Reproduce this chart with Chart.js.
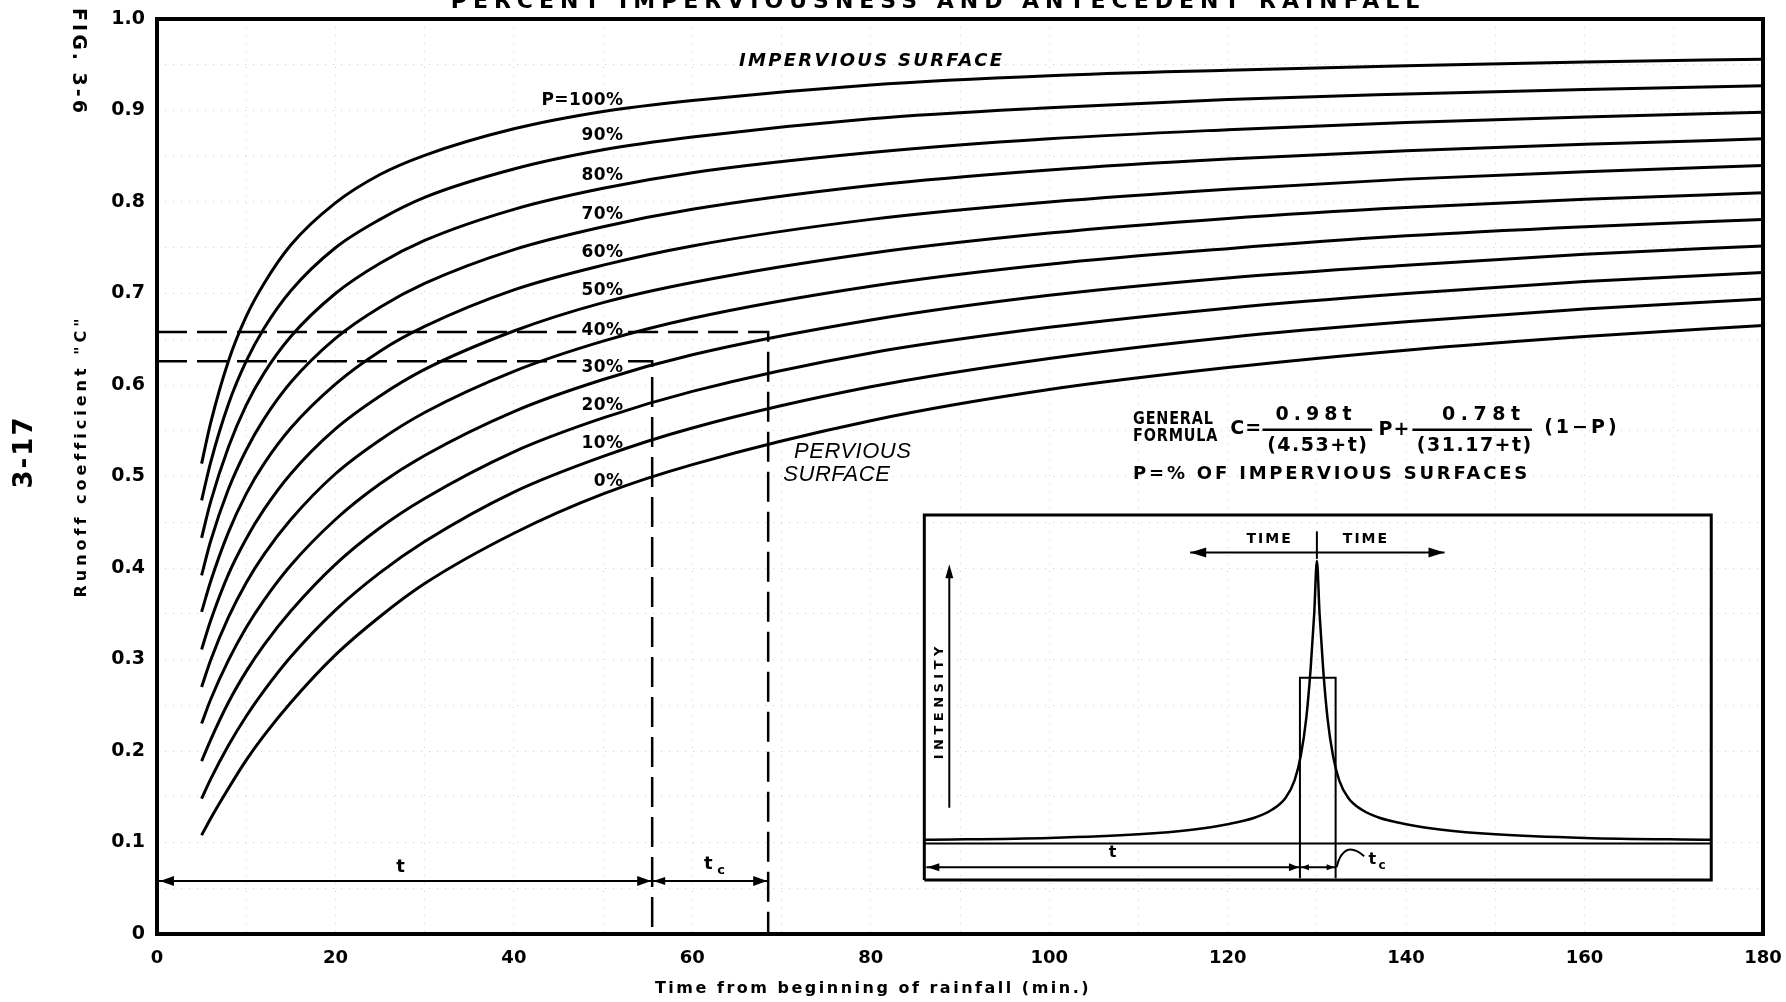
<!DOCTYPE html>
<html>
<head>
<meta charset="utf-8">
<script src="https://cdn.jsdelivr.net/npm/chart.js@4.4.0/dist/chart.umd.min.js"></script>
<style>
html, body { margin: 0; padding: 0; background: #fff; overflow: hidden; }
#wrap { width: 1786px; height: 1002px; position: relative; }
</style>
</head>
<body>
<div id="wrap"><canvas id="grafico"></canvas></div>
<script>
// time from beginning of rainfall (min.)
const times = [5, 6, 8, 10, 12, 15, 20, 25, 30, 40, 50, 60, 80, 100, 120, 140, 160, 180];

// runoff coefficient C (P = % impervious)
const curve0   = [0.108, 0.126, 0.159, 0.190, 0.217, 0.253, 0.305, 0.347, 0.383, 0.438, 0.481, 0.513, 0.561, 0.595, 0.619, 0.638, 0.653, 0.665];
const curve10  = [0.148, 0.169, 0.206, 0.238, 0.266, 0.303, 0.354, 0.395, 0.429, 0.483, 0.522, 0.553, 0.598, 0.629, 0.652, 0.669, 0.683, 0.694];
const curve20  = [0.189, 0.212, 0.253, 0.287, 0.316, 0.353, 0.404, 0.444, 0.476, 0.527, 0.564, 0.593, 0.635, 0.663, 0.684, 0.700, 0.713, 0.723];
const curve30  = [0.230, 0.256, 0.299, 0.335, 0.365, 0.403, 0.453, 0.492, 0.523, 0.571, 0.606, 0.633, 0.671, 0.698, 0.717, 0.731, 0.743, 0.752];
const curve40  = [0.270, 0.299, 0.346, 0.384, 0.415, 0.453, 0.503, 0.540, 0.570, 0.615, 0.648, 0.673, 0.708, 0.732, 0.749, 0.763, 0.773, 0.781];
const curve50  = [0.311, 0.342, 0.393, 0.432, 0.464, 0.503, 0.552, 0.588, 0.617, 0.659, 0.690, 0.712, 0.744, 0.766, 0.782, 0.794, 0.803, 0.810];
const curve60  = [0.352, 0.385, 0.439, 0.481, 0.514, 0.553, 0.601, 0.637, 0.664, 0.704, 0.731, 0.752, 0.781, 0.800, 0.814, 0.825, 0.833, 0.840];
const curve70  = [0.392, 0.429, 0.486, 0.529, 0.563, 0.603, 0.651, 0.685, 0.711, 0.748, 0.773, 0.792, 0.818, 0.835, 0.847, 0.856, 0.863, 0.869];
const curve80  = [0.433, 0.472, 0.532, 0.578, 0.613, 0.653, 0.700, 0.733, 0.758, 0.792, 0.815, 0.832, 0.854, 0.869, 0.879, 0.887, 0.893, 0.898];
const curve90  = [0.474, 0.515, 0.579, 0.626, 0.662, 0.703, 0.750, 0.781, 0.805, 0.836, 0.857, 0.871, 0.891, 0.903, 0.912, 0.918, 0.923, 0.927];
const curve100 = [0.514, 0.558, 0.626, 0.675, 0.711, 0.753, 0.799, 0.830, 0.851, 0.880, 0.899, 0.911, 0.928, 0.938, 0.944, 0.949, 0.953, 0.956];

const curves = [curve0, curve10, curve20, curve30, curve40, curve50, curve60, curve70, curve80, curve90, curve100];
const curveNames = ['0%', '10%', '20%', '30%', '40%', '50%', '60%', '70%', '80%', '90%', 'P=100%'];

// example read-off (dashed guides)
const readT = [55.5, 68.5];
const readC = [0.626, 0.658];

// inset hyetograph
const insetT = [86.0, 100, 110, 116, 120, 123, 125, 126.5, 127.5, 128.2, 128.8, 129.3, 129.7, 130.0,
                130.3, 130.7, 131.2, 131.8, 132.5, 133.5, 135, 137, 140, 144, 150, 160, 174.2];
const insetI = [0.103, 0.105, 0.109, 0.114, 0.120, 0.127, 0.136, 0.149, 0.168, 0.195, 0.235, 0.290, 0.350, 0.408,
                0.350, 0.290, 0.235, 0.195, 0.168, 0.149, 0.136, 0.127, 0.120, 0.114, 0.109, 0.105, 0.103];
const boxT = [86, 86, 174.2, 174.2, 86];
const boxC = [0.059, 0.458, 0.458, 0.059, 0.059];
const barT = [128.1, 128.1, 132.1, 132.1];
const barC = [0.061, 0.28, 0.28, 0.061];
const baseT = [86, 174.2];
const baseC = [0.099, 0.099];

// where the curve labels sit
const labelRightT = 52.3;
const labelC = [0.494, 0.536, 0.578, 0.619, 0.659, 0.703, 0.745, 0.786, 0.829, 0.873, 0.911];

const F = '"DejaVu Sans", sans-serif';
const pts = (xs, ys) => xs.map((x, i) => ({ x: x, y: ys[i] }));

const datasets = curves.map((c, i) => ({
    label: curveNames[i],
    data: pts(times, c),
    borderColor: '#000',
    borderWidth: 3,
    pointRadius: 0,
    cubicInterpolationMode: 'monotone',
    fill: false
}));

const plain = (data, w, dash) => ({
    data: data, borderColor: '#000', borderWidth: w, pointRadius: 0,
    borderDash: dash || [], fill: false, tension: 0, spanGaps: false
});

// guide lines, broken where the 30% / 40% labels sit
datasets.push(plain(pts([0, 47.0, 50, 52.8, readT[0], readT[0]], [readC[0], readC[0], null, readC[0], readC[0], 0]), 2.5, [30, 10]));
datasets.push(plain(pts([0, 47.0, 50, 52.8, readT[1], readT[1]], [readC[1], readC[1], null, readC[1], readC[1], 0]), 2.5, [30, 10]));

// inset
datasets.push(plain(pts(boxT, boxC), 3));
datasets.push(plain(pts(barT, barC), 2));
datasets.push(plain(pts(baseT, baseC), 2));
const insetCurve = plain(pts(insetT, insetI), 2.5);
insetCurve.cubicInterpolationMode = 'monotone';
datasets.push(insetCurve);

function txt(ctx, s, x, y, font, align, spacing, rot, base, sx) {
    ctx.save();
    ctx.font = font;
    ctx.textAlign = align || 'left';
    ctx.textBaseline = base || 'middle';
    ctx.letterSpacing = (spacing || 0) + 'px';
    ctx.translate(x, y);
    if (rot) ctx.rotate(rot);
    if (sx) ctx.scale(sx, 1);
    ctx.fillText(s, 0, 0);
    ctx.restore();
}

function head(ctx, x, y, dir, len, w) {
    ctx.save();
    ctx.translate(x, y);
    ctx.rotate(dir);
    ctx.beginPath();
    ctx.moveTo(0, 0);
    ctx.lineTo(-len, -w);
    ctx.lineTo(-len, w);
    ctx.closePath();
    ctx.fill();
    ctx.restore();
}

function line(ctx, x1, y1, x2, y2, w) {
    ctx.lineWidth = w;
    ctx.beginPath();
    ctx.moveTo(x1, y1);
    ctx.lineTo(x2, y2);
    ctx.stroke();
}

const annotations = {
    id: 'annotations',
    afterDatasetsDraw(chart) {
        const ctx = chart.ctx;
        const X = v => chart.scales.x.getPixelForValue(v);
        const Y = v => chart.scales.y.getPixelForValue(v);
        const a = chart.chartArea;
        ctx.save();
        ctx.fillStyle = '#000';
        ctx.strokeStyle = '#000';

        // frame
        ctx.lineWidth = 4;
        ctx.strokeRect(a.left, a.top, a.right - a.left, a.bottom - a.top);

        // cut-off title and side texts
        txt(ctx, 'PERCENT IMPERVIOUSNESS AND ANTECEDENT RAINFALL', 938, 8, 'bold 22px ' + F, 'center', 6, 0, 'alphabetic');
        txt(ctx, 'FIG. 3-6', 78, 62, 'bold 19px ' + F, 'center', 3, Math.PI / 2);
        txt(ctx, 'Runoff coefficient "C"', 82, 456, 'bold 16px ' + F, 'center', 4, -Math.PI / 2);
        txt(ctx, '3-17', 25, 452, 'bold 26px ' + F, 'center', 2, -Math.PI / 2);
        txt(ctx, 'Time from beginning of rainfall (min.)', 873, 989, 'bold 16px ' + F, 'center', 2.5);

        // curve labels
        curveNames.forEach((n, i) => {
            txt(ctx, n, X(labelRightT), Y(labelC[i]), 'bold 17px ' + F, 'right', 0.5);
        });
        txt(ctx, 'IMPERVIOUS SURFACE', X(80.1), Y(0.954), 'italic bold 18px ' + F, 'center', 2.3);
        txt(ctx, 'PERVIOUS', X(71.4), Y(0.527), 'italic 22px "Liberation Sans", sans-serif', 'left', 0.5);
        txt(ctx, 'SURFACE', X(70.2), Y(0.502), 'italic 22px "Liberation Sans", sans-serif', 'left', 0.5);

        // dimension line t / tc
        const yd = Y(0.058);
        line(ctx, X(0) + 2, yd, X(readT[1]), yd, 2);
        head(ctx, X(0) + 3, yd, Math.PI, 14, 5);
        head(ctx, X(readT[0]) - 1, yd, 0, 14, 5);
        head(ctx, X(readT[0]) + 1, yd, Math.PI, 12, 4);
        head(ctx, X(readT[1]) - 1, yd, 0, 14, 5);
        txt(ctx, 't', X(27.3), Y(0.073), 'bold 18px ' + F, 'center');
        txt(ctx, 't', X(61.8), Y(0.076), 'bold 18px ' + F, 'center');
        txt(ctx, 'c', X(62.8), Y(0.069), 'bold 13px ' + F, 'left');

        // formula
        const ff = 'bold 19px ' + F;
        txt(ctx, 'GENERAL', X(109.4), Y(0.563), 'bold 18px ' + F, 'left', 1, 0, 'middle', 0.8);
        txt(ctx, 'FORMULA', X(109.4), Y(0.544), 'bold 18px ' + F, 'left', 1, 0, 'middle', 0.8);
        txt(ctx, 'C=', X(120.3), Y(0.552), ff, 'left', 1);
        txt(ctx, '0.98t', X(129.9), Y(0.567), ff, 'center', 5);
        line(ctx, X(123.9), Y(0.551), X(136.2), Y(0.551), 2.5);
        txt(ctx, '(4.53+t)', X(130.1), Y(0.533), ff, 'center', 1.5);
        txt(ctx, 'P+', X(136.9), Y(0.551), ff, 'left', 1);
        txt(ctx, '0.78t', X(148.7), Y(0.567), ff, 'center', 5.5);
        line(ctx, X(140.7), Y(0.551), X(154.1), Y(0.551), 2.5);
        txt(ctx, '(31.17+t)', X(147.7), Y(0.533), ff, 'center', 1.5);
        txt(ctx, '(1\u2212P)', X(159.7), Y(0.553), ff, 'center', 3);
        txt(ctx, 'P=% OF IMPERVIOUS SURFACES', X(109.4), Y(0.502), 'bold 18px ' + F, 'left', 2.8);

        // inset arrows and text
        const yt = Y(0.417);
        line(ctx, X(115.8), yt, X(144.3), yt, 2);
        head(ctx, X(115.8), yt, Math.PI, 16, 5);
        head(ctx, X(144.3), yt, 0, 16, 5);
        line(ctx, X(130.0), Y(0.44), X(130.0), Y(0.41), 2);
        txt(ctx, 'TIME', X(124.7), Y(0.431), 'bold 14px ' + F, 'center', 2);
        txt(ctx, 'TIME', X(135.5), Y(0.431), 'bold 14px ' + F, 'center', 2);

        line(ctx, X(88.8), Y(0.138), X(88.8), Y(0.395), 2);
        head(ctx, X(88.8), Y(0.404), -Math.PI / 2, 14, 4);
        txt(ctx, 'INTENSITY', X(87.7), Y(0.255), 'bold 13px ' + F, 'center', 4.5, -Math.PI / 2);

        const yi = Y(0.073);
        line(ctx, X(86) + 2, yi, X(132.1), yi, 2);
        head(ctx, X(86) + 3, yi, Math.PI, 12, 4);
        head(ctx, X(128.1) - 1, yi, 0, 10, 4);
        head(ctx, X(128.1) + 1, yi, Math.PI, 8, 3);
        head(ctx, X(132.1) - 1, yi, 0, 8, 3);
        txt(ctx, 't', X(107.1), Y(0.089), 'bold 16px ' + F, 'center');
        ctx.lineWidth = 2;
        ctx.beginPath();
        ctx.moveTo(X(132.2), yi);
        ctx.quadraticCurveTo(X(133.0), Y(0.104), X(135.3), Y(0.085));
        ctx.stroke();
        txt(ctx, 't', X(136.2), Y(0.081), 'bold 16px ' + F, 'center');
        txt(ctx, 'c', X(136.9), Y(0.074), 'bold 12px ' + F, 'left');

        ctx.restore();
    }
};

const ctx = document.getElementById('grafico').getContext('2d');

const grafico = new Chart(ctx, {
    type: 'line',
    data: { datasets: datasets },
    plugins: [annotations],
    options: {
        responsive: true,
        maintainAspectRatio: false,
        animation: false,
        layout: { padding: { left: 0, right: 23, top: 19, bottom: 0 } },
        plugins: { legend: { display: false }, tooltip: { enabled: false } },
        scales: {
            x: {
                type: 'linear',
                min: 0,
                max: 180,
                afterFit: s => { s.height = 68; s.paddingLeft = 0; s.paddingRight = 0; },
                grid: { color: '#cfcfcf', lineWidth: 1, drawTicks: false, tickLength: 0 },
                border: { display: false, dash: [1, 7] },
                ticks: {
                    stepSize: 10,
                    maxTicksLimit: 100,
                    autoSkip: false,
                    maxRotation: 0,
                    padding: 14,
                    color: '#000',
                    font: { family: 'DejaVu Sans', weight: 'bold', size: 18 },
                    callback: v => (v % 20 === 0 ? String(v) : '')
                }
            },
            y: {
                min: 0,
                max: 1,
                afterFit: s => { s.width = 157; s.paddingTop = 0; s.paddingBottom = 0; },
                grid: { color: '#cfcfcf', lineWidth: 1, drawTicks: false, tickLength: 0 },
                border: { display: false, dash: [1, 7] },
                ticks: {
                    stepSize: 0.05,
                    maxTicksLimit: 100,
                    autoSkip: false,
                    padding: 12,
                    color: '#000',
                    font: { family: 'DejaVu Sans', weight: 'bold', size: 19 },
                    callback: v => {
                        if (Math.round(v * 100) % 10 !== 0) return '';
                        return Math.abs(v) < 1e-9 ? '0' : v.toFixed(1);
                    }
                }
            }
        }
    }
});
</script>
</body>
</html>
